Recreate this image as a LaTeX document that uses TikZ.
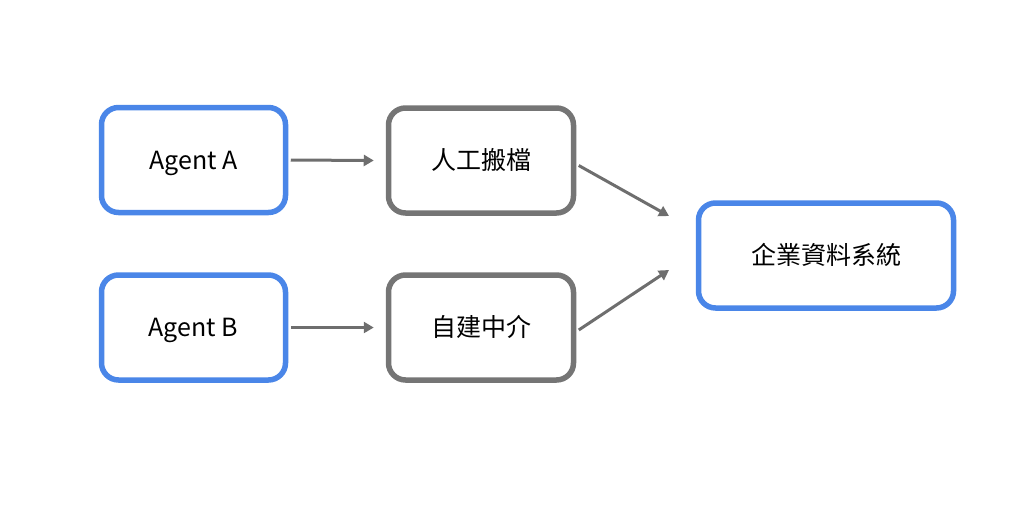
\documentclass[tikz,border=0pt]{standalone}
\usepackage{fontspec}
\setmainfont{Noto Sans CJK TC}
\usetikzlibrary{arrows.meta}
\definecolor{bluec}{HTML}{4A86E8}
\definecolor{grayc}{HTML}{757575}
\definecolor{arrowc}{HTML}{6E6E6E}
\tikzset{
  box/.style={draw, line width=5.5pt, rounded corners=17pt, fill=white, minimum height=105pt, font=\fontsize{25}{30}\selectfont, text=black, inner sep=0pt, text height=20pt, text depth=2pt},
  bluebox/.style={box, draw=bluec},
  graybox/.style={box, draw=grayc},
  conn/.style={draw=arrowc, line width=3pt, -{Triangle[length=10pt,width=11pt]}}
}
\begin{document}
\begin{tikzpicture}[x=1pt,y=-1pt]
\useasboundingbox (0,0) rectangle (1024,512);
\node[bluebox, minimum width=184pt] (a) at (193.5,160) {Agent A};
\node[bluebox, minimum width=184pt] (b) at (193.5,327.5) {Agent B};
\node[graybox, minimum width=185pt] (m1) at (481,160.5) {人工搬檔};
\node[graybox, minimum width=185pt] (m2) at (481,327.5) {自建中介};
\node[bluebox, minimum width=255pt, minimum height=105pt] (s) at (826,255.5) {企業資料系統};
\coordinate (s1) at (669,216);
\coordinate (s2) at (669,270);
\draw[conn] (a.east) ++(2.5,0) -- ([xshift=-12pt]m1.west);
\draw[conn] (b.east) ++(2.5,0) -- ([xshift=-12pt]m2.west);
\draw[conn] ([shift={(2.5,5)}]m1.east) -- (s1);
\draw[conn] ([shift={(2.5,2.5)}]m2.east) -- (s2);
\end{tikzpicture}
\end{document}
